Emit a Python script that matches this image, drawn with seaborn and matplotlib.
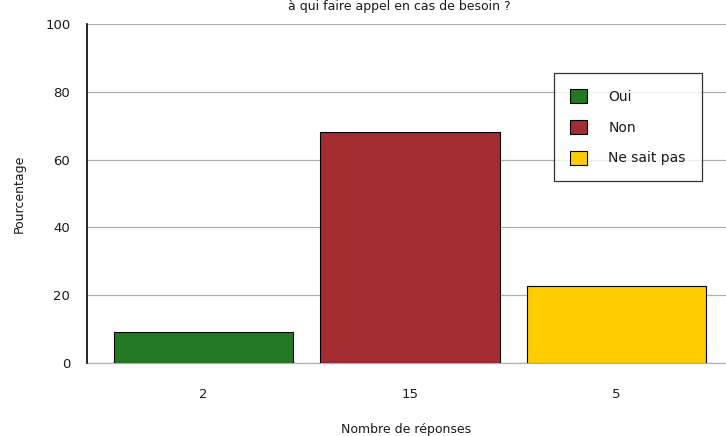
import matplotlib
matplotlib.use("Agg")
import matplotlib.pyplot as plt
from matplotlib.patches import Patch
import seaborn as sns
import pandas as pd

# Survey answers
categories = ["Oui", "Non", "Ne sait pas"]
counts = [2, 15, 5]
colors = ["#237823", "#A22C2F", "#FFCC00"]

total = sum(counts)
percentages = [c / total * 100 for c in counts]

df = pd.DataFrame({"reponse": categories, "pct": percentages})

sns.set_style("white")
plt.rcParams["font.family"] = ["DejaVu Sans"]

fig = plt.figure(figsize=(7.26, 4.36), dpi=100)
ax = fig.add_axes([87 / 726, 1 - 363 / 436, 1 - 87 / 726, (363 - 24) / 436])

sns.barplot(data=df, x="reponse", y="pct", hue="reponse", palette=colors,
            order=categories, hue_order=categories, dodge=False, width=0.87,
            saturation=1, edgecolor="black", linewidth=0.8, legend=False,
            ax=ax, zorder=3)

ax.set_ylim(0, 100)
ax.set_xlim(-0.565, 2.53)
ax.set_yticks([0, 20, 40, 60, 80, 100])
ax.set_xticks(range(len(categories)))
ax.set_xticklabels([str(c) for c in counts])
ax.yaxis.grid(True, color="#b0b0b0", linewidth=0.9, zorder=0)
ax.xaxis.grid(False)
ax.set_axisbelow(True)
ax.axhline(0, color="#b0b0b0", linewidth=0.9, zorder=1, clip_on=False)

for side in ["top", "right", "bottom"]:
    ax.spines[side].set_visible(False)
ax.spines["left"].set_color("black")
ax.spines["left"].set_linewidth(1.2)

ax.tick_params(axis="y", direction="out", length=8, width=1.2, color="black",
               labelsize=9.5, labelcolor="#1a1a1a", pad=4)
ax.tick_params(axis="x", length=0, labelsize=9.5, labelcolor="#1a1a1a", pad=18)

ax.set_xlabel("Nombre de réponses", fontsize=9, color="#1a1a1a", labelpad=16)
ax.set_ylabel("Pourcentage", fontsize=9, color="#1a1a1a", labelpad=14)

fig.text(0.5 + 87 / 726 / 2 - 0.01, 0.999, "à qui faire appel en cas de besoin ?",
         ha="center", va="top", fontsize=9, color="#1a1a1a")

handles = [Patch(facecolor=c, edgecolor="black", linewidth=0.8) for c in colors]
leg = ax.legend(handles, categories, loc="upper left",
                bbox_to_anchor=((554 - 87) / (726 - 87), 1 - (73 - 24) / 339),
                frameon=True, fancybox=False, fontsize=10,
                handlelength=1.2, handleheight=1.2, handletextpad=1.55,
                labelspacing=1.15, borderpad=1.15, borderaxespad=0)
leg.get_frame().set_edgecolor("black")
leg.get_frame().set_linewidth(0.9)
for t in leg.get_texts():
    t.set_color("#1a1a1a")

fig.savefig("out.png", dpi=100)
